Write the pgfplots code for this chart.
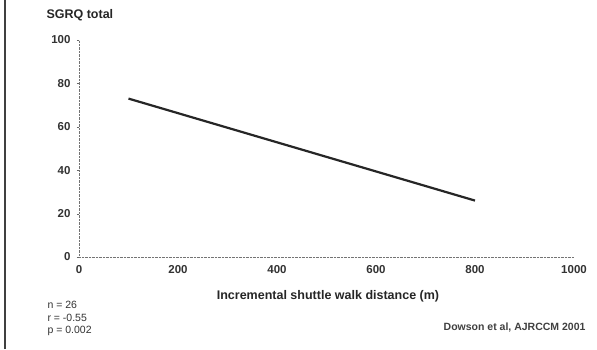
\documentclass[border=0pt]{standalone}
\usepackage{fontspec}
\setmainfont{Liberation Sans}
\usepackage{pgfplots}
\pgfplotsset{compat=1.18}
\begin{document}
\begin{tikzpicture}[x=1pt,y=1pt]
\useasboundingbox (0,0) rectangle (597,349);
\fill[white] (0,0) rectangle (597,349);
\draw[line width=2.5pt, black!75] (5,0) -- (5,349);
\begin{axis}[
  at={(79pt,92pt)}, anchor=south west,
  scale only axis, width=495pt, height=217pt,
  xmin=0, xmax=1000, ymin=0, ymax=100,
  axis x line=bottom, axis y line=left,
  axis line style={densely dotted, black!55, -},
  xtick={0,200,400,600,800,1000},
  ytick={0,20,40,60,80,100},
  tick style={black!60},
  xtick style={draw=none},
  ytick align=outside, major tick length=2pt,
  tick label style={font=\bfseries\fontsize{11.5}{13}\selectfont, text=black!80},
  /pgf/number format/assume math mode=true,
  /pgf/number format/1000 sep={},
  xticklabel style={yshift=-4pt},
  yticklabel style={xshift=-3pt},
  clip=false,
]
\addplot[black!85, line width=2.2pt] coordinates {(100,73) (800,26)};
\end{axis}
\node[anchor=west, font=\bfseries\fontsize{12.5}{14}\selectfont, text=black!85] at (43,334) {SGRQ total};
\node[font=\bfseries\fontsize{12.5}{14}\selectfont, text=black!85] at (328,53) {Incremental shuttle walk distance (m)};
\node[anchor=west, font=\fontsize{10.5}{12}\selectfont, text=black!80] at (44,44) {n = 26};
\node[anchor=west, font=\fontsize{10.5}{12}\selectfont, text=black!80] at (44,31) {r = -0.55};
\node[anchor=west, font=\fontsize{10.5}{12}\selectfont, text=black!80] at (44,18) {p = 0.002};
\node[anchor=east, font=\bfseries\fontsize{10.5}{12}\selectfont, text=black!75] at (589,21) {Dowson et al, AJRCCM 2001};
\end{tikzpicture}
\end{document}
